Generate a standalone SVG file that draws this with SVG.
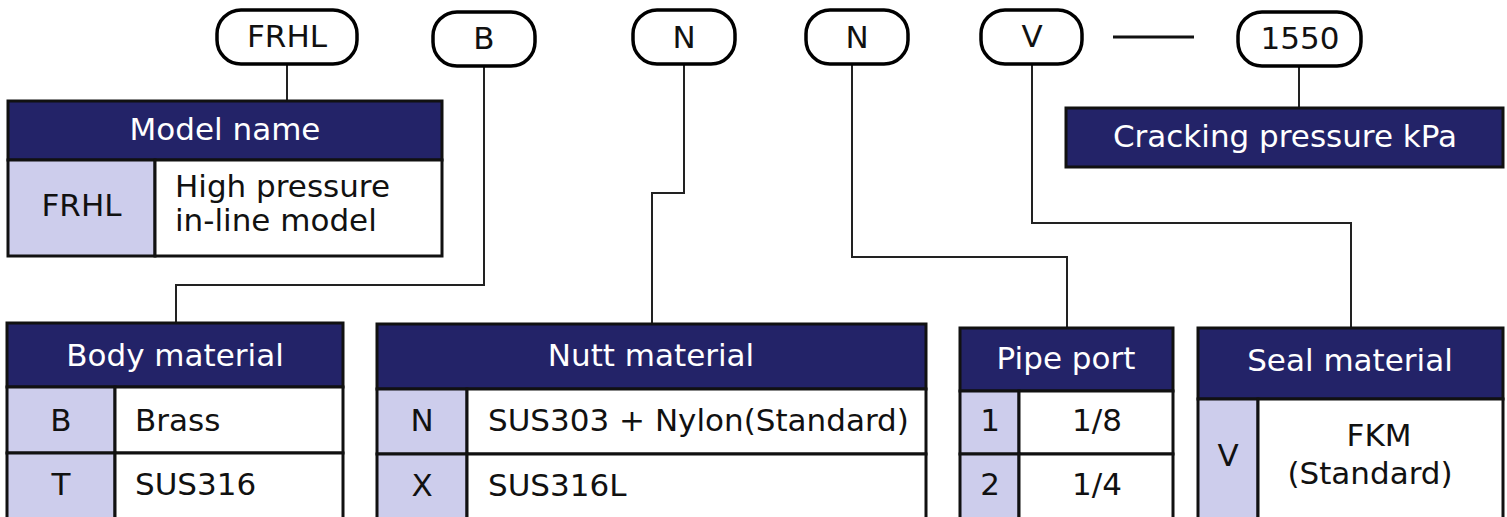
<svg xmlns="http://www.w3.org/2000/svg" width="1507" height="517" viewBox="0 0 1507 517">
<style>
text{font-family:"DejaVu Sans","Verdana",sans-serif;font-size:31px;fill:#111}
.pill{fill:#fff;stroke:#000;stroke-width:3.5}
.hd{fill:#232368;stroke:#111;stroke-width:3}
.hdt{fill:#fff;text-anchor:middle}
.key{fill:#cdcdec;stroke:#111;stroke-width:3}
.val{fill:#fff;stroke:#111;stroke-width:3}
.c{text-anchor:middle}
.con{fill:none;stroke:#222;stroke-width:2}
</style>
<rect width="1507" height="517" fill="#fff"/>
<g id="connectors">
<path class="con" d="M287,63V101"/>
<path class="con" d="M484,65V285H176V323"/>
<path class="con" d="M684,64V193H652V323"/>
<path class="con" d="M852,64V257H1067V328"/>
<path class="con" d="M1032,64V223H1351V328"/>
<path class="con" d="M1299,66V108"/>
<path d="M1113,37H1194" stroke="#111" stroke-width="3"/>
</g>
<g id="pill-frhl"><rect class="pill" x="217" y="10" width="140" height="54" rx="24"/><text class="c" x="287" y="47">FRHL</text></g>
<g id="pill-b"><rect class="pill" x="433" y="12" width="102" height="54" rx="24"/><text class="c" x="484" y="49">B</text></g>
<g id="pill-n1"><rect class="pill" x="633" y="10" width="102" height="54" rx="24"/><text class="c" x="684" y="48">N</text></g>
<g id="pill-n2"><rect class="pill" x="806" y="10" width="102" height="54" rx="24"/><text class="c" x="857" y="48">N</text></g>
<g id="pill-v"><rect class="pill" x="981" y="10" width="101" height="54" rx="24"/><text class="c" x="1032" y="47">V</text></g>
<g id="pill-1550"><rect class="pill" x="1238" y="12" width="123" height="54" rx="24"/><text class="c" x="1300" y="49">1550</text></g>

<g id="model-name">
<rect class="hd" x="8" y="101" width="434" height="59"/>
<text class="hdt" x="225" y="140">Model name</text>
<rect class="key" x="8" y="160" width="147" height="96"/>
<rect class="val" x="155" y="160" width="287" height="96"/>
<text class="c" x="81.5" y="216">FRHL</text>
<text x="175" y="197">High pressure</text>
<text x="175" y="231">in-line model</text>
</g>

<g id="cracking-pressure">
<rect class="hd" x="1066" y="108" width="437" height="59"/>
<text class="hdt" x="1285" y="147">Cracking pressure kPa</text>
</g>

<g id="body-material">
<rect class="hd" x="7" y="323" width="336" height="64"/>
<text class="hdt" x="175" y="366">Body material</text>
<rect class="key" x="7" y="387" width="108" height="66"/>
<rect class="val" x="115" y="387" width="228" height="66"/>
<rect class="key" x="7" y="453" width="108" height="70"/>
<rect class="val" x="115" y="453" width="228" height="70"/>
<text class="c" x="61" y="431">B</text>
<text x="135" y="431">Brass</text>
<text class="c" x="61" y="495">T</text>
<text x="135" y="495">SUS316</text>
</g>

<g id="nutt-material">
<rect class="hd" x="377" y="324" width="549" height="65"/>
<text class="hdt" x="651" y="366">Nutt material</text>
<rect class="key" x="377" y="389" width="90" height="65"/>
<rect class="val" x="467" y="389" width="459" height="65"/>
<rect class="key" x="377" y="454" width="90" height="70"/>
<rect class="val" x="467" y="454" width="459" height="70"/>
<text class="c" x="422" y="431">N</text>
<text x="488" y="431">SUS303 + Nylon(Standard)</text>
<text class="c" x="422" y="496">X</text>
<text x="488" y="496">SUS316L</text>
</g>

<g id="pipe-port">
<rect class="hd" x="960" y="328" width="213" height="63"/>
<text class="hdt" x="1066" y="369">Pipe port</text>
<rect class="key" x="960" y="391" width="59" height="63"/>
<rect class="val" x="1019" y="391" width="154" height="63"/>
<rect class="key" x="960" y="454" width="59" height="70"/>
<rect class="val" x="1019" y="454" width="154" height="70"/>
<text class="c" x="990" y="431">1</text>
<text class="c" x="1097" y="431">1/8</text>
<text class="c" x="990" y="495">2</text>
<text class="c" x="1097" y="495">1/4</text>
</g>

<g id="seal-material">
<rect class="hd" x="1198" y="328" width="305" height="71"/>
<text class="hdt" x="1350" y="371">Seal material</text>
<rect class="key" x="1198" y="399" width="60" height="125"/>
<rect class="val" x="1258" y="399" width="245" height="125"/>
<text class="c" x="1228" y="466">V</text>
<text class="c" x="1379" y="446">FKM</text>
<text class="c" x="1370" y="484">(Standard)</text>
</g>
</svg>
